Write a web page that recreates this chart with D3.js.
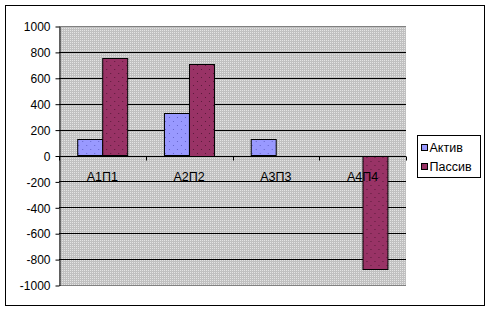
<!DOCTYPE html>
<html>
<head>
<meta charset="utf-8">
<script src="https://cdn.jsdelivr.net/npm/d3@7"></script>
<style>
  body { margin: 0; background: #fff; }
  text { font-family: "Liberation Sans", Arial, sans-serif; font-size: 12.5px; fill: #000; }
</style>
</head>
<body>
<svg id="chart" width="491" height="312"></svg>
<script>
// data
var categories = ["А1П1", "А2П2", "А3П3", "А4П4"];
var seriesNames = ["Актив", "Пассив"];
var aktiv = [125, 325, 125, 0];
var passiv = [750, 710, 0, -870];
var yTicks = [1000, 800, 600, 400, 200, 0, -200, -400, -600, -800, -1000];

var svg = d3.select("#chart"),
  plotLeft = 59,
  plotRight = 406,
  plotTop = 26,
  plotBottom = 285;

var defs = svg.append("defs");

// backgound pattern, grey with light dots
var bgPat = defs.append("pattern")
  .attr("id", "bgPat")
  .attr("width", 2).attr("height", 2)
  .attr("patternUnits", "userSpaceOnUse");
bgPat.append("rect").attr("width", 2).attr("height", 2).attr("fill", "#c0c0c0");
bgPat.append("rect").attr("width", 1).attr("height", 1).attr("fill", "#e4e4e4");

function dotPattern(id, base, dot) {
  var p = defs.append("pattern")
    .attr("id", id)
    .attr("width", 8).attr("height", 8)
    .attr("patternUnits", "userSpaceOnUse");
  p.append("rect").attr("width", 8).attr("height", 8).attr("fill", base);
  p.append("rect").attr("x", 1).attr("y", 1).attr("width", 1).attr("height", 1).attr("fill", dot);
  p.append("rect").attr("x", 5).attr("y", 5).attr("width", 1).attr("height", 1).attr("fill", dot);
}
dotPattern("bluePat", "#9999ff", "#6666cc");
dotPattern("redPat", "#993366", "#5a1a3a");
var fills = ["url(#bluePat)", "url(#redPat)"];

// outer frame
svg.append("rect")
  .attr("x", 5.5).attr("y", 5.5)
  .attr("width", 479).attr("height", 300)
  .attr("fill", "#fff")
  .attr("stroke", "#000")
  .attr("stroke-width", 1);

var x = d3.scaleBand()
  .domain(categories)
  .range([plotLeft, plotRight])
  .paddingInner(0.42)
  .paddingOuter(0.21);

var x1 = d3.scaleBand()
  .domain(seriesNames)
  .range([0, x.bandwidth()]);

var y = d3.scaleLinear()
  .domain([-1000, 1000])
  .range([plotBottom, plotTop]);

// plot area
svg.append("rect")
  .attr("x", plotLeft).attr("y", plotTop)
  .attr("width", plotRight - plotLeft)
  .attr("height", plotBottom - plotTop)
  .attr("fill", "url(#bgPat)");

// gridlines
svg.append("g")
  .selectAll("line")
  .data(yTicks)
  .join("line")
  .attr("x1", plotLeft).attr("x2", plotRight)
  .attr("y1", d => Math.round(y(d)) + 0.5)
  .attr("y2", d => Math.round(y(d)) + 0.5)
  .attr("stroke", d => (d === 1000 || d === -1000) ? "#808080" : "#000");

// y axis
var yAxis = svg.append("g")
  .attr("transform", "translate(" + (plotLeft + 0.5) + ",0.5)")
  .call(d3.axisLeft(y).tickValues(yTicks).tickFormat(d => String(d))
    .tickSize(4).tickSizeOuter(0).tickPadding(5));
yAxis.select(".domain").attr("stroke", "#000");
yAxis.selectAll("text")
  .style("font-family", "'Liberation Sans', Arial, sans-serif")
  .style("font-size", "12px")
  .attr("dy", "0.35em");

// bars
var data = categories.map((c, i) => ({ cat: c, vals: [aktiv[i], passiv[i]] }));
svg.append("g")
  .selectAll("g")
  .data(data)
  .join("g")
  .attr("transform", d => "translate(" + x(d.cat) + ",0)")
  .selectAll("rect")
  .data(d => d.vals.map((v, j) => ({ v: v, s: seriesNames[j], j: j })))
  .join("rect")
  .filter(d => d.v !== 0)
  .attr("x", d => Math.round(x1(d.s)) + 0.5)
  .attr("y", d => Math.round(y(Math.max(0, d.v))) + 0.5)
  .attr("width", Math.round(x1.bandwidth()))
  .attr("height", d => Math.round(Math.abs(y(d.v) - y(0))))
  .attr("fill", d => fills[d.j])
  .attr("stroke", "#000");

// category axis at zero
var zeroY = Math.round(y(0)) + 0.5;
var step = x.step();
svg.append("line")
  .attr("x1", plotLeft).attr("x2", plotRight)
  .attr("y1", zeroY).attr("y2", zeroY)
  .attr("stroke", "#000");
svg.append("g")
  .selectAll("line")
  .data(d3.range(categories.length + 1))
  .join("line")
  .attr("x1", i => Math.round(plotLeft + i * step) + 0.5)
  .attr("x2", i => Math.round(plotLeft + i * step) + 0.5)
  .attr("y1", zeroY).attr("y2", zeroY + 4)
  .attr("stroke", "#000");

svg.append("g")
  .selectAll("text")
  .data(categories)
  .join("text")
  .attr("x", d => x(d) + x.bandwidth() / 2)
  .attr("y", zeroY + 24)
  .attr("text-anchor", "middle")
  .text(d => d);

// legend
var legend = svg.append("g").attr("transform", "translate(417.5,135.5)");
legend.append("rect")
  .attr("width", 63).attr("height", 42)
  .attr("fill", "#fff").attr("stroke", "#000");
seriesNames.forEach((s, i) => {
  legend.append("rect")
    .attr("x", 4).attr("y", 9 + i * 19)
    .attr("width", 6).attr("height", 6)
    .attr("fill", fills[i]).attr("stroke", "#000");
  legend.append("text")
    .attr("x", 12).attr("y", 16.5 + i * 19)
    .text(s);
});
</script>
</body>
</html>
